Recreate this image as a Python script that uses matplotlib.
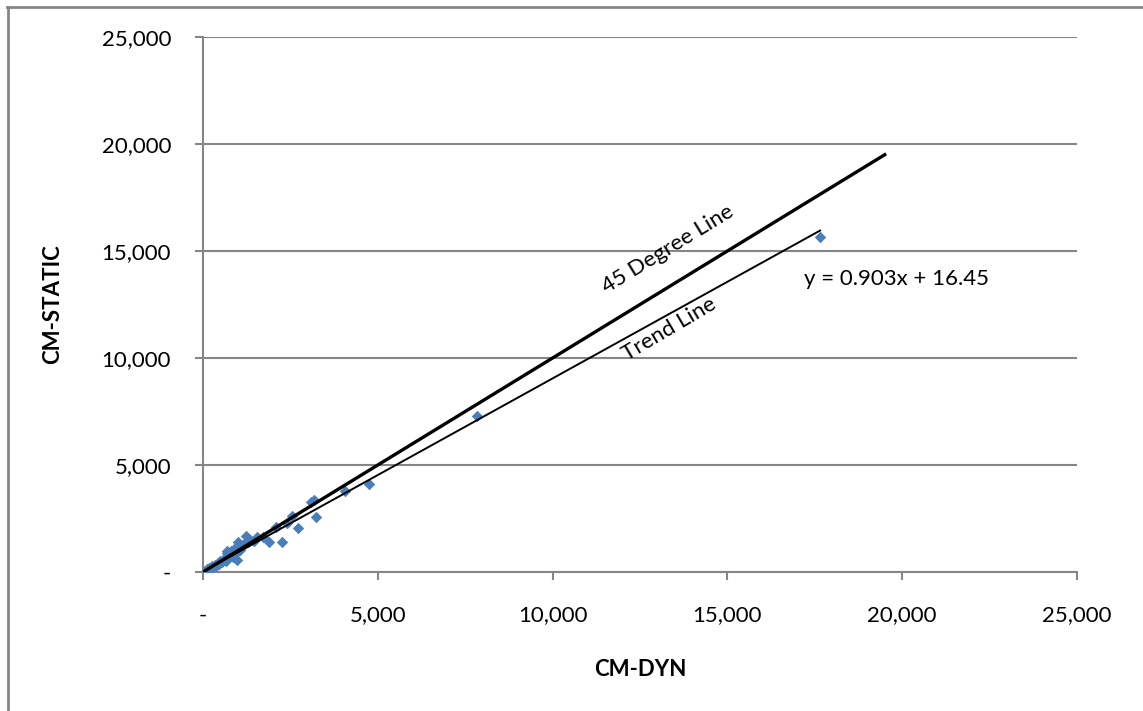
import matplotlib.pyplot as plt
from matplotlib.lines import Line2D

plt.rcParams['font.family'] = ['Lato', 'DejaVu Sans']

# CM-DYN vs CM-STATIC values
cm_dyn = [20, 50, 80, 110, 150, 180, 220, 260, 300, 330, 380, 420, 460, 500,
          540, 580, 620, 650, 690, 700, 720, 760, 800, 850, 880, 920, 960,
          1000, 1010, 1060, 1100, 1150, 1200, 1230, 1300, 1350, 1450, 1550,
          1720, 1900, 2080, 2250, 2390, 2550, 2720, 3100, 3170, 3230, 4060,
          4750, 7830, 17650]
cm_static = [10, 60, 40, 120, 100, 200, 160, 280, 230, 330, 300, 400, 380, 520,
             460, 560, 650, 520, 1000, 900, 640, 760, 980, 700, 860, 1100, 580,
             1000, 1420, 1050, 1200, 1280, 1350, 1700, 1400, 1500, 1450, 1620,
             1650, 1420, 2120, 1420, 2300, 2620, 2040, 3280, 3370, 2580, 3780,
             4110, 7290, 15650]

slope, intercept = 0.903, 16.45
line45_end = 19500
trend_end = 17650

ticks = [0, 5000, 10000, 15000, 20000, 25000]
tick_labels = ['-', '5,000', '10,000', '15,000', '20,000', '25,000']

grey = '#868686'
fs = 16

fig = plt.figure(figsize=(11.43, 7.11), dpi=100)
ax = fig.add_axes([0.1776, 0.1955, 0.9423 - 0.1776, 0.948 - 0.1955])

ax.scatter(cm_dyn, cm_static, marker='D', s=34, color='#4A7EBB', zorder=3,
           linewidths=0)
ax.plot([0, line45_end], [0, line45_end], color='black', lw=2.4, zorder=4)
ax.plot([0, trend_end], [intercept, slope * trend_end + intercept],
        color='black', lw=1.4, zorder=4)

ax.text(13300, 15100, '45 Degree Line', rotation=31.5, fontsize=fs,
        ha='center', va='center', rotation_mode='anchor')
ax.text(13350, 11350, 'Trend Line', rotation=30.5, fontsize=fs,
        ha='center', va='center', rotation_mode='anchor')
ax.text(17200, 13700, 'y = 0.903x + 16.45', fontsize=fs, ha='left',
        va='center')

ax.set_xlim(0, 25000)
ax.set_ylim(0, 25000)
ax.set_xticks(ticks)
ax.set_xticklabels(tick_labels)
ax.set_yticks(ticks)
ax.set_yticklabels(tick_labels)
ax.tick_params(axis='both', direction='out', length=6, width=1.5, color=grey,
               labelsize=fs)
ax.tick_params(axis='y', pad=17)
ax.tick_params(axis='x', pad=18)

ax.yaxis.grid(True, color=grey, lw=1.5)
ax.set_axisbelow(True)
for side in ['top', 'right']:
    ax.spines[side].set_visible(False)
for side in ['left', 'bottom']:
    ax.spines[side].set_color(grey)
    ax.spines[side].set_linewidth(1.5)

ax.set_xlabel('CM-DYN', fontsize=fs, fontweight='bold', labelpad=24)
ax.set_ylabel('CM-STATIC', fontsize=fs, fontweight='bold', labelpad=28)

# chart-area border (left and top edges visible)
fig.add_artist(Line2D([0.007, 0.007], [0, 0.99], color=grey, lw=2,
                      transform=fig.transFigure))
fig.add_artist(Line2D([0.006, 1.0], [0.99, 0.99], color=grey, lw=2,
                      transform=fig.transFigure))

plt.savefig('out.png', dpi=100)
